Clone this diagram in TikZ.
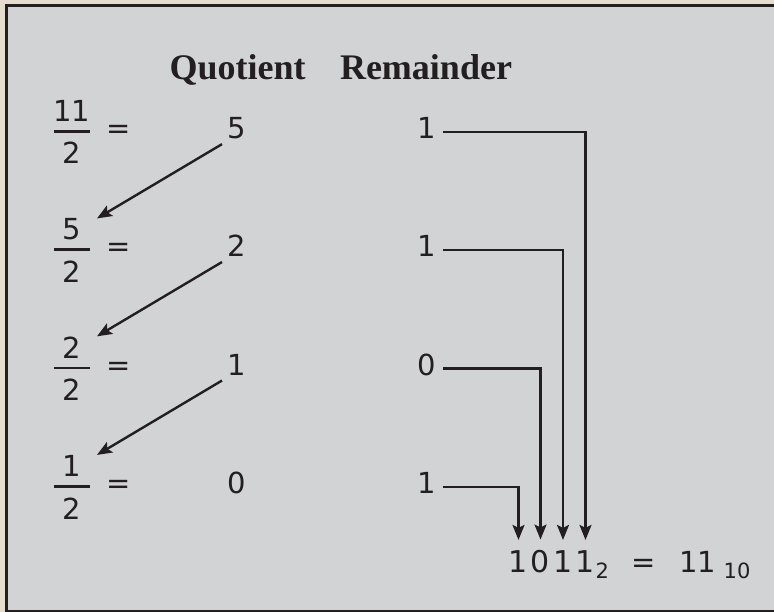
\documentclass[tikz,border=0pt]{standalone}
\usepackage{fontspec}
\newfontfamily\digfont{DejaVu Sans}
\newfontfamily\headfont{Liberation Serif}
\usetikzlibrary{arrows.meta,calc}
\definecolor{panelgray}{RGB}{210,211,213}
\definecolor{inkdark}{RGB}{35,31,32}
\definecolor{parchment}{RGB}{229,222,207}

\begin{document}
\begin{tikzpicture}[x=1pt,y=-1pt,
  digit/.style={font=\digfont\fontsize{29}{29}\selectfont,text=inkdark,inner sep=0pt,anchor=base},
  subdigit/.style={font=\digfont\fontsize{21}{21}\selectfont,text=inkdark,inner sep=0pt,anchor=base west},
  head/.style={font=\headfont\bfseries\fontsize{36}{36}\selectfont,text=inkdark,inner sep=0pt,anchor=base},
  link/.style={line width=2.4pt,draw=inkdark},
  tip/.style={link,-{Stealth[length=15pt,width=12pt,inset=3pt]}}]
  \useasboundingbox (0,0) rectangle (774,612);
  % Frame and panel
  \fill[parchment] (0,0) rectangle (774,612);
  \filldraw[fill=panelgray,draw=inkdark,line width=2.6pt] (6.3,5.4) rectangle (778,610.8);
  % Column heads
  \node[head] (quot) at (237.5,80) {Quotient};
  \node[head] (rema) at (426,80) {Remainder};
  % Division rows: fraction, equals, quotient, remainder
  \foreach \num/\quo/\rem/\y [count=\i] in {11/5/1/128,5/2/1/246.3,2/1/0/364.6,1/0/1/483}{
    \node[digit] (n\i) at (72,\y-6.5) {\num};
    \node[digit] (d\i) at (72,\y+36) {2};
    \draw[link,line width=2.7pt] (54,\y+3.5) -- (90,\y+3.5);
    \node[digit] (e\i) at (118.5,\y+10.5) {=};
    \node[digit] (q\i) at (237,\y+10.5) {\quo};
    \node[digit] (r\i) at (427,\y+10.5) {\rem};
  }
  % Quotient feeds next division
  \foreach \i/\j in {1/2,2/3,3/4}
    \draw[tip] ($(q\i)+(-15,16)$) -- ($(n\j)+(25,-11)$);
  % Result bits
  \node[digit,font=\digfont\fontsize{30}{30}\selectfont] (b3) at (518.5,572) {1};
  \node[digit,font=\digfont\fontsize{30}{30}\selectfont] (b2) at (540.5,572) {0};
  \node[digit,font=\digfont\fontsize{30}{30}\selectfont] (b1) at (563,572) {1};
  \node[digit,font=\digfont\fontsize{30}{30}\selectfont] (b0) at (585.5,572) {1};
  \node[subdigit] (base2) at (595.5,578) {2};
  \node[digit] (eq) at (644,572) {=};
  \node[digit] (dec) at (697.5,572) {11};
  \node[subdigit] (base10) at (723.5,578) {10};
  % Remainders read bottom up
  \foreach \i/\j in {1/0,2/1,3/2,4/3}
    \draw[tip] ([xshift=7pt,yshift=-4pt]r\i.east) -| ([yshift=10pt]b\j.north);
\end{tikzpicture}
\end{document}
